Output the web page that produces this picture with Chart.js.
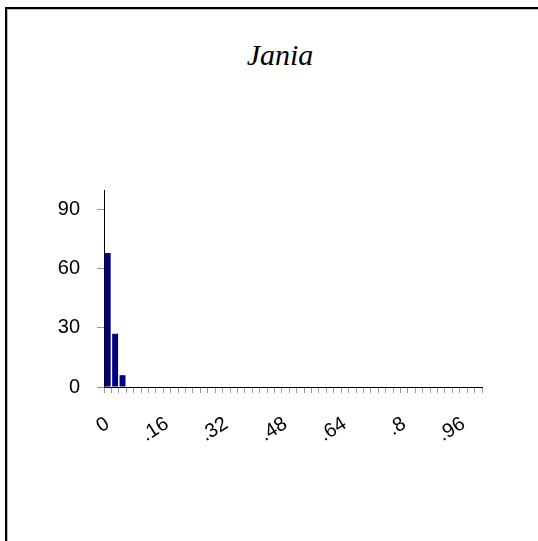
<!DOCTYPE html>
<html>
<head>
<meta charset="utf-8">
<script src="https://cdn.jsdelivr.net/npm/chart.js@4.4.1/dist/chart.umd.min.js"></script>
<style>
  html, body { margin: 0; padding: 0; background: #fff; }
  #wrap { position: relative; width: 538px; height: 541px; overflow: hidden; }
  #frame {
    position: absolute; left: 5px; top: 7px; width: 600px; height: 600px;
    border-left: 2px solid #000; border-top: 2px solid #000;
    box-shadow: inset 1px 1px 0 #bbb;
  }
  #title {
    position: absolute; left: 180px; width: 200px; top: 38px; text-align: center;
    font-family: "Liberation Serif", "Times New Roman", serif; font-style: italic;
    font-size: 30px; color: #000;
  }
  #c { position: absolute; left: 0; top: 0; }
</style>
</head>
<body>
<div id="wrap">
  <div id="frame"></div>
  <div id="title">Jania</div>
  <canvas id="c" width="538" height="541"></canvas>
</div>
<script>
// Size classes from 0 to 1 in steps of .02
const categories = ["0", ".02", ".04", ".06", ".08", ".1", ".12", ".14", ".16", ".18",
  ".2", ".22", ".24", ".26", ".28", ".3", ".32", ".34", ".36", ".38",
  ".4", ".42", ".44", ".46", ".48", ".5", ".52", ".54", ".56", ".58",
  ".6", ".62", ".64", ".66", ".68", ".7", ".72", ".74", ".76", ".78",
  ".8", ".82", ".84", ".86", ".88", ".9", ".92", ".94", ".96", ".98", "1"];
const frequencies = [68, 27, 6, 0, 0, 0, 0, 0, 0, 0,
  0, 0, 0, 0, 0, 0, 0, 0, 0, 0,
  0, 0, 0, 0, 0, 0, 0, 0, 0, 0,
  0, 0, 0, 0, 0, 0, 0, 0, 0, 0,
  0, 0, 0, 0, 0, 0, 0, 0, 0, 0, 0];
const yTicks = [0, 30, 60, 90];
const labelEvery = 8;

const yFont = { family: "'Liberation Sans', Arial, sans-serif", size: 20 };
const xFont = { family: "'Liberation Sans', Arial, sans-serif", size: 20 };

new Chart(document.getElementById('c'), {
  type: 'bar',
  data: {
    labels: categories,
    datasets: [{
      data: frequencies,
      backgroundColor: '#000080',
      borderWidth: 0,
      barPercentage: 0.8,
      categoryPercentage: 1.0
    }]
  },
  options: {
    responsive: false,
    animation: false,
    events: [],
    layout: { padding: { top: 190, right: 56, bottom: 94, left: 0 } },
    plugins: { legend: { display: false }, tooltip: { enabled: false }, title: { display: false } },
    scales: {
      x: {
        offset: true,
        grid: { offset: true, drawOnChartArea: false, drawTicks: true, tickLength: 6, color: '#999', lineWidth: 1 },
        border: { color: '#000', width: 1 },
        ticks: {
          autoSkip: false,
          minRotation: 32, maxRotation: 32,
          padding: 19,
          color: '#000',
          font: xFont,
          callback: function (v, i) { return i % labelEvery === 0 ? categories[i] : ''; }
        },
        afterFit: function (s) { s.height = 60; }
      },
      y: {
        min: 0, max: 100,
        afterBuildTicks: function (s) { s.ticks = yTicks.map(v => ({ value: v })); },
        grid: { drawOnChartArea: false, drawTicks: true, tickLength: 7, color: '#999' },
        border: { color: '#000', width: 1 },
        ticks: { padding: 17, color: '#000', font: yFont },
        afterFit: function (s) { s.width = 104; }
      }
    }
  }
});
</script>
</body>
</html>
